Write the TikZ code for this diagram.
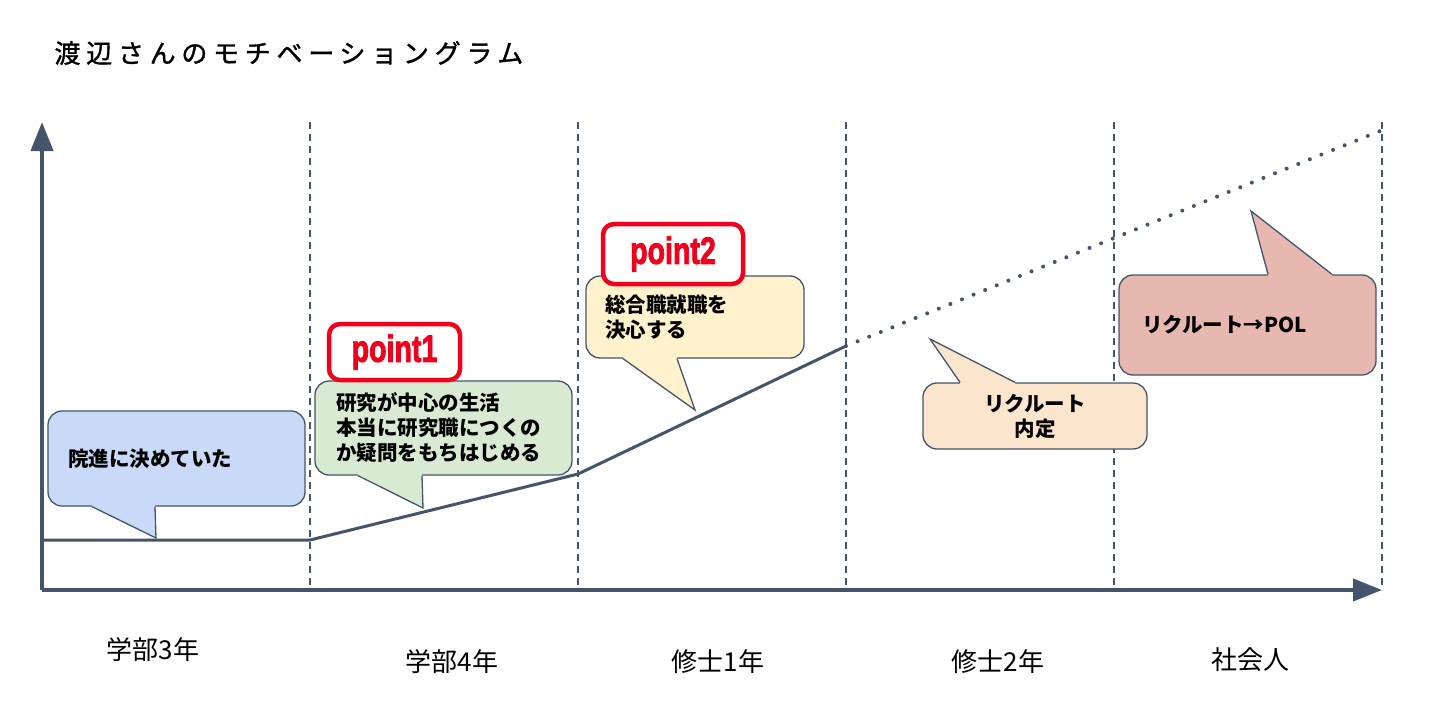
\documentclass[tikz,border=0pt]{standalone}
\usepackage{fontspec}
\usepackage{xcolor}
\usetikzlibrary{arrows.meta,positioning,calc}

\setmainfont{Noto Sans CJK JP}
\newfontfamily\jpfont{Noto Sans CJK JP}
\newfontfamily\titlefont[LetterSpace=22,FakeBold=1.2]{Noto Sans CJK JP}
\newfontfamily\pointfont[FakeBold=2.5]{Liberation Sans}

\definecolor{slate}{HTML}{44546A}
\definecolor{bluefill}{HTML}{C9DAF8}
\definecolor{greenfill}{HTML}{D9EAD3}
\definecolor{yellowfill}{HTML}{FFF2CC}
\definecolor{peachfill}{HTML}{FCE5CD}
\definecolor{rosefill}{HTML}{E6B8AF}
\definecolor{pointred}{HTML}{F0001C}

\tikzset{
  axis/.style={draw=slate, line width=4pt, -{Triangle[length=29pt,width=22pt]}},
  sep/.style={draw=slate, line width=1.3pt, dash pattern=on 7pt off 5pt},
  motive/.style={draw=slate, line width=3pt, line join=round},
  future/.style={draw=slate, line width=4pt, line cap=round, dash pattern=on 0pt off 12.5pt},
  bubble/.style={draw=slate, line width=1.3pt, rounded corners=14pt, inner ysep=0pt,
    font=\jpfont\bfseries\fontsize{20.5}{25}\selectfont},
  tail/.style={draw=slate, line width=1.3pt, line join=miter},
  pointbox/.style={draw=pointred, line width=4.5pt, rounded corners=11pt, fill=white,
    inner sep=0pt, text=pointred, font=\pointfont\bfseries\fontsize{34}{34}\selectfont},
  period/.style={font=\jpfont\fontsize{26}{30}\selectfont}
}

\begin{document}
\begin{tikzpicture}[x=1pt, y=-1pt]
  \useasboundingbox (0,0) rectangle (1440,701);

  % Title
  \node[anchor=west, font=\titlefont\fontsize{26}{30}\selectfont] (title) at (51,53) {渡辺さんのモチベーショングラム};

  % Period separators
  \foreach \x in {310,578,846,1114,1382}
    \draw[sep] (\x,122) -- (\x,590);

  % Axes
  \coordinate (o) at (42,590);
  \coordinate (ytop) at (42,122);
  \coordinate (xend) at (1382,590);
  \draw[axis] (o) -- (ytop);
  \draw[axis] (o) -- (xend);

  % Motivation curve
  \coordinate (m0) at (42,540);
  \coordinate (m1) at (310,540);
  \coordinate (m2) at (578,474);
  \coordinate (m3) at (846,346);
  \coordinate (m4) at (1380,131);
  \draw[motive] (m0) -- (m1) -- (m2) -- (m3);
  \draw[future] (m3) -- (m4);

  % Period labels
  \node[period] (u3) at (153,650) {学部3年};
  \node[period] (u4) at (452,662) {学部4年};
  \node[period] (g1) at (718,662) {修士1年};
  \node[period] (g2) at (998,662) {修士2年};
  \node[period] (job) at (1250,660) {社会人};

  % Tail tips
  \coordinate (t1) at (156,538);
  \coordinate (t2) at (423,508);
  \coordinate (t3) at (695,410);
  \coordinate (t4) at (930,339);
  \coordinate (t5) at (1251,211);

  % Callouts
  \node[bubble, fill=bluefill, text width=217pt, inner xsep=20pt, minimum height=95pt, align=left] (blue) at (176.5,458.5) {院進に決めていた};
  \fill[bluefill] (92,0 |- blue.south) -- (t1) -- (155,0 |- blue.south) -- ++(0,-6) -- ++(-63,0) -- cycle;
  \draw[tail] (92,0 |- blue.south) -- (t1) -- (155,0 |- blue.south);

  \node[bubble, fill=greenfill, text width=215pt, inner xsep=21pt, minimum height=94pt, align=left] (green) at (443.5,428) {研究が中心の生活\\本当に研究職につくの\\か疑問をもちはじめる};
  \fill[greenfill] (358,0 |- green.south) -- (t2) -- (422,0 |- green.south) -- ++(0,-6) -- ++(-64,0) -- cycle;
  \draw[tail] (358,0 |- green.south) -- (t2) -- (422,0 |- green.south);

  \node[bubble, fill=yellowfill, text width=180pt, inner xsep=19pt, minimum height=82pt, align=left] (yellow) at (695,317) {総合職就職を\\決心する};
  \fill[yellowfill] (623,0 |- yellow.south) -- (t3) -- (677,0 |- yellow.south) -- ++(0,-6) -- ++(-54,0) -- cycle;
  \draw[tail] (623,0 |- yellow.south) -- (t3) -- (677,0 |- yellow.south);

  \node[bubble, fill=peachfill, text width=200pt, inner xsep=12pt, minimum height=66pt, align=center] (peach) at (1035,416) {リクルート\\内定};
  \fill[peachfill] (960,0 |- peach.north) -- (t4) -- (1015,0 |- peach.north) -- ++(0,6) -- ++(-55,0) -- cycle;
  \draw[tail] (960,0 |- peach.north) -- (t4) -- (1015,0 |- peach.north);

  \node[bubble, fill=rosefill, text width=211pt, inner xsep=23pt, minimum height=100pt, align=left] (rose) at (1247.5,325) {リクルート→POL};
  \fill[rosefill] (1268,0 |- rose.north) -- (t5) -- (1332,0 |- rose.north) -- ++(0,6) -- ++(-64,0) -- cycle;
  \draw[tail] (1268,0 |- rose.north) -- (t5) -- (1332,0 |- rose.north);

  % Key points
  \node[pointbox, minimum width=131pt, minimum height=56pt] (p1) at (394.5,352) {\scalebox{0.84}[1.12]{point1}};
  \node[pointbox, minimum width=140pt, minimum height=60pt] (p2) at (673,254) {\scalebox{0.84}[1.12]{point2}};
\end{tikzpicture}
\end{document}
